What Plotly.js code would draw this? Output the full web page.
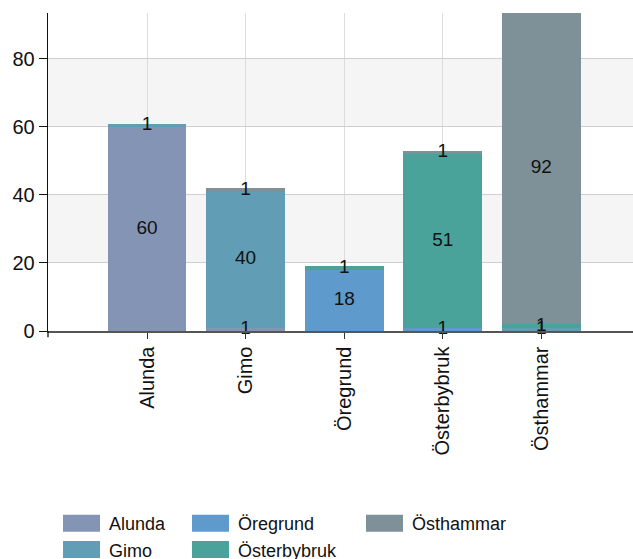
<!DOCTYPE html>
<html>
<head>
<meta charset="utf-8">
<script src="https://cdn.plot.ly/plotly-3.0.1.min.js"></script>
<style>html,body{margin:0;padding:0;background:#fff;}#chart{width:633px;height:559px;}</style>
</head>
<body>
<div id="chart"></div>
<script>
const categories = ['Alunda', 'Gimo', 'Öregrund', 'Österbybruk', 'Östhammar'];
const seriesNames = ['Alunda', 'Gimo', 'Öregrund', 'Österbybruk', 'Östhammar'];
const alunda      = [60, 1, null, null, null];
const gimo        = [1, 40, null, null, 1];
const oregrund    = [null, null, 18, 1, null];
const osterbybruk = [null, null, 1, 51, 1];
const osthammar   = [null, 1, null, 1, 92];
const yTicks = [0, 20, 40, 60, 80];

const seriesValues = [alunda, gimo, oregrund, osterbybruk, osthammar];
const colors = ['#8494b4', '#619db4', '#5e9acc', '#4aa39b', '#7f9198'];
const legendOf = ['legend', 'legend', 'legend2', 'legend2', 'legend3'];
const FONT = 'Liberation Sans, Arial, sans-serif';

// stacked bars (no built-in text so labels can sit on top of every segment)
const barTraces = seriesNames.map((name, i) => ({
  type: 'bar',
  name: name,
  x: categories,
  y: seriesValues[i],
  textposition: 'none',
  marker: {color: colors[i], line: {width: 0}},
  legend: legendOf[i],
  cliponaxis: true,
  hoverinfo: 'skip'
}));

// value labels at the middle of each stacked segment, derived from the data
const base = categories.map(() => 0);
const labelTraces = seriesValues.map((vals, i) => {
  const mids = vals.map((v, j) => {
    if (v == null) return null;
    const m = base[j] + v / 2;
    base[j] += v;
    return m;
  });
  return {
    type: 'scatter', mode: 'text',
    x: categories, y: mids,
    text: vals.map(v => v == null ? '' : String(v)),
    textposition: 'middle center',
    textfont: {family: FONT, size: 19, color: '#111'},
    cliponaxis: false, showlegend: false, hoverinfo: 'skip'
  };
});

const legendBase = {
  orientation: 'v', yanchor: 'top', xanchor: 'left',
  font: {family: FONT, size: 18, color: '#111'},
  bgcolor: 'rgba(0,0,0,0)', borderwidth: 0, tracegroupgap: 0,
  traceorder: 'normal'
};
const px2x = p => (p - 48) / 585;
const py2y = p => (331 - p) / 318;

const layout = {
  width: 633, height: 559,
  margin: {l: 48, r: 0, t: 13, b: 228, autoexpand: false},
  paper_bgcolor: '#fff', plot_bgcolor: '#fff',
  barmode: 'stack', bargap: 0.2,
  font: {family: FONT, size: 19, color: '#111'},
  showlegend: true,
  xaxis: {
    type: 'category', range: [-1.005, 4.93],
    showgrid: true, gridcolor: '#dcdcdc', gridwidth: 1,
    ticks: 'outside', ticklen: 6, tickcolor: '#333',
    tickangle: -90, tickfont: {family: FONT, size: 20, color: '#111'},
    showline: true, linecolor: '#555', linewidth: 1.5,
    zeroline: false, fixedrange: true, automargin: false
  },
  yaxis: {
    range: [0, 93.5], tickvals: yTicks,
    showgrid: true, gridcolor: '#cfcfcf', gridwidth: 1,
    ticks: 'outside', ticklen: 8, tickcolor: '#111',
    tickfont: {family: FONT, size: 20, color: '#111'},
    showline: true, linecolor: '#111', linewidth: 1.3,
    zeroline: false, fixedrange: true, automargin: false
  },
  shapes: [
    {type: 'rect', layer: 'below', xref: 'paper', yref: 'y', x0: 0, x1: 1, y0: yTicks[1], y1: yTicks[2], fillcolor: '#f5f5f5', line: {width: 0}},
    {type: 'rect', layer: 'below', xref: 'paper', yref: 'y', x0: 0, x1: 1, y0: yTicks[3], y1: yTicks[4], fillcolor: '#f5f5f5', line: {width: 0}},
    {type: 'line', layer: 'above', xref: 'paper', yref: 'paper', x0: 0, x1: 0, y0: -0.02, y1: 0, line: {color: '#111', width: 1.3}}
  ],
  legend: Object.assign({}, legendBase, {x: px2x(69), y: py2y(505)}),
  legend2: Object.assign({}, legendBase, {x: px2x(198), y: py2y(505)}),
  legend3: Object.assign({}, legendBase, {x: px2x(372), y: py2y(505)})
};

// wider legend swatches (37x17 px) that are not clipped by the legend box
function fixSwatches() {
  document.querySelectorAll('.infolayer [clip-path]').forEach(e => {
    if (e.closest('[class^="legend"], [class*=" legend"]')) e.removeAttribute('clip-path');
  });
  document.querySelectorAll('.legendpoints path').forEach(p => {
    p.setAttribute('d', 'M-26,-8.5H11V8.5H-26Z');
  });
}

Plotly.newPlot('chart', barTraces.concat(labelTraces), layout, {staticPlot: true, displayModeBar: false}).then(() => {
  fixSwatches();
  requestAnimationFrame(fixSwatches);
  setTimeout(fixSwatches, 30);
});
</script>
</body>
</html>
